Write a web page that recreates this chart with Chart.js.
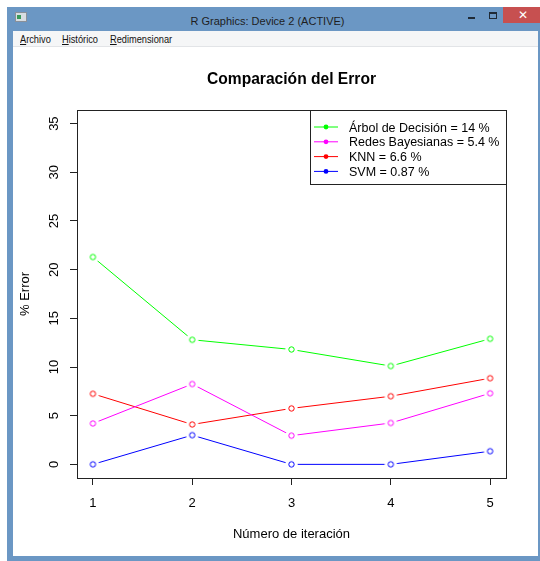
<!DOCTYPE html>
<html>
<head>
<meta charset="utf-8">
<script src="https://cdn.jsdelivr.net/npm/chart.js@4/dist/chart.umd.min.js"></script>
<style>
  html, body { margin: 0; padding: 0; background: #ffffff; }
  body { width: 540px; height: 561px; position: relative; overflow: hidden; font-family: "Liberation Sans", Arial, sans-serif; }
  #frame { position: absolute; left: 7px; top: 7px; width: 540px; height: 554px; background: #6b97c4; }
  #titlebar { position: absolute; left: 7px; top: 7px; width: 533px; height: 24px; }
  #wtitle { position: absolute; left: 0; top: 8px; width: 533px; text-align: center; font: 11px "Liberation Sans", Arial, sans-serif; color: #1e1e1e; line-height: 13px; }
  #wtitle span { position: relative; left: -6px; }
  #icon { position: absolute; left: 8px; top: 5px; width: 10px; height: 8px; background: #d8dde2; border: 1px solid #8a9099; }
  #icon i { position: absolute; left: 1px; top: 2px; width: 4px; height: 4px; background: #3a9a5a; }
  #min { position: absolute; left: 461px; top: 10px; width: 7px; height: 2px; background: #1f2a36; }
  #max { position: absolute; left: 482px; top: 5px; width: 6px; height: 4px; border: 1px solid #1f2a36; border-top-width: 2px; }
  #close { position: absolute; left: 496px; top: 0; width: 40px; height: 16px; background: #c75050; color: #fff; font: bold 12px "DejaVu Sans", sans-serif; text-align: center; line-height: 16px; }
  #menubar { position: absolute; left: 13px; top: 31px; width: 525px; height: 15px; background: #f5f6f7; font: 10.5px "Liberation Sans", Arial, sans-serif; color: #111; }
  #menubar span { position: absolute; top: 2px; transform-origin: 0 50%; transform: scaleX(0.88); white-space: nowrap; }
  #menubar u { text-decoration: underline; }
  #content { position: absolute; left: 13px; top: 46px; width: 525px; height: 510px; background: #ffffff; border-top: 1px solid #e2e4e7; box-sizing: border-box; }
  #chartWrap { position: absolute; left: 13px; top: 46px; width: 524px; height: 509px; }
</style>
</head>
<body>
<div id="frame"></div>
<div id="titlebar">
  <div id="icon"><i></i></div>
  <div id="wtitle"><span>R Graphics: Device 2 (ACTIVE)</span></div>
  <div id="min"></div>
  <div id="max"></div>
  <div id="close">✕</div>
</div>
<div id="menubar">
  <span style="left:7px"><u>A</u>rchivo</span>
  <span style="left:49px"><u>H</u>istórico</span>
  <span style="left:97px"><u>R</u>edimensionar</span>
</div>
<div id="content"></div>
<div id="chartWrap"><canvas id="c" width="524" height="509"></canvas></div>
<script>
// ---- data ----
const iterations = [1, 2, 3, 4, 5];
const arbolDecision = [21.3, 12.8, 11.8, 10.1, 12.9];
const redesBayesianas = [4.2, 8.25, 2.95, 4.25, 7.3];
const knn = [7.25, 4.1, 5.75, 7.0, 8.85];
const svm = [0, 3.0, 0, 0, 1.35];
const yTicks = [0, 5, 10, 15, 20, 25, 30, 35];
const seriesLabels = ["Árbol de Decisión = 14 %", "Redes Bayesianas = 5.4 %", "KNN = 6.6 %", "SVM = 0.87 %"];
const seriesColors = ["#00ff00", "#ff00ff", "#ff0000", "#0000ff"];
const chartTitle = "Comparación del Error";
const xTitle = "Número de iteración";
const yTitle = "% Error";

const seriesValues = [arbolDecision, redesBayesianas, knn, svm];

function makePoint(color) {
  const c = document.createElement('canvas');
  c.width = 15; c.height = 15;
  const g = c.getContext('2d');
  g.fillStyle = '#ffffff';
  g.beginPath(); g.arc(7.5, 7.5, 6.2, 0, Math.PI * 2); g.fill();
  g.strokeStyle = color; g.lineWidth = 1;
  g.beginPath(); g.arc(7.5, 7.5, 2.7, 0, Math.PI * 2); g.stroke();
  return c;
}

const datasets = seriesValues.map((vals, i) => ({
  label: seriesLabels[i],
  data: vals.map((v, j) => ({ x: iterations[j], y: v })),
  borderColor: seriesColors[i],
  backgroundColor: seriesColors[i],
  borderWidth: 1,
  pointStyle: makePoint(seriesColors[i]),
  pointRadius: 3,
  pointHoverRadius: 3,
  tension: 0,
  fill: false
}));

const FONT = "'Liberation Sans', Arial, sans-serif";

const boxPlugin = {
  id: 'rbox',
  afterDraw(chart) {
    const ctx = chart.ctx, a = chart.chartArea;
    ctx.save();
    ctx.strokeStyle = '#222';
    ctx.lineWidth = 1;
    ctx.strokeRect(Math.round(a.left) + 0.5, Math.round(a.top) + 0.5, Math.round(a.right - a.left), Math.round(a.bottom - a.top));
    // main title
    ctx.fillStyle = '#000';
    ctx.font = "bold 15.6px " + FONT;
    ctx.textAlign = 'center';
    ctx.textBaseline = 'alphabetic';
    ctx.fillText(chartTitle, (a.left + a.right) / 2, 37.5);
    // legend (top right, R style)
    const w = 196, h = 74, rowH = 14.8;
    const bx = Math.round(a.right) - w, by = Math.round(a.top);
    ctx.fillStyle = '#fff';
    ctx.fillRect(bx, by, w, h);
    ctx.strokeStyle = '#222';
    ctx.strokeRect(bx + 0.5, by + 0.5, w, h);
    ctx.font = "12.5px " + FONT;
    ctx.textAlign = 'left';
    chart.data.datasets.forEach((ds, i) => {
      const cy = by + 16.5 + i * rowH;
      ctx.strokeStyle = ds.borderColor;
      ctx.beginPath(); ctx.moveTo(bx + 4, cy + 0.5); ctx.lineTo(bx + 28, cy + 0.5); ctx.stroke();
      ctx.fillStyle = ds.borderColor;
      ctx.beginPath(); ctx.arc(bx + 16, cy + 0.5, 2.4, 0, Math.PI * 2); ctx.fill();
      ctx.fillStyle = '#000';
      ctx.fillText(ds.label, bx + 39, cy + 5);
    });
    ctx.restore();
  }
};

new Chart(document.getElementById('c'), {
  type: 'line',
  data: { datasets },
  options: {
    responsive: false,
    animation: false,
    events: [],
    layout: { padding: { top: 64, right: 31, bottom: 0, left: 0 } },
    plugins: { legend: { display: false }, title: { display: false }, tooltip: { enabled: false } },
    scales: {
      x: {
        type: 'linear',
        min: 0.84, max: 5.16,
        afterBuildTicks: s => { s.ticks = iterations.map(v => ({ value: v })); },
        afterFit: s => { s.height = 77; },
        grid: { drawOnChartArea: false, drawTicks: true, tickLength: 7, color: '#222', lineWidth: 1 },
        border: { display: false },
        ticks: { color: '#000', font: { size: 13, family: FONT }, padding: 11, autoSkip: false, maxRotation: 0 },
        title: { display: true, text: xTitle, color: '#000', font: { size: 13, family: FONT }, padding: { top: 0, bottom: 13 } }
      },
      y: {
        type: 'linear',
        min: -1.4, max: 36.4,
        afterBuildTicks: s => { s.ticks = yTicks.map(v => ({ value: v })); },
        afterFit: s => { s.width = 64; },
        grid: { drawOnChartArea: false, drawTicks: true, tickLength: 7, color: '#222', lineWidth: 1 },
        border: { display: false },
        ticks: { color: '#000', font: { size: 13, family: FONT }, padding: 8, minRotation: 90, maxRotation: 90, crossAlign: 'center', autoSkip: false },
        title: { display: true, text: yTitle, color: '#000', font: { size: 13, family: FONT }, padding: { top: 5, bottom: 0 } }
      }
    }
  },
  plugins: [boxPlugin]
});
</script>
</body>
</html>
